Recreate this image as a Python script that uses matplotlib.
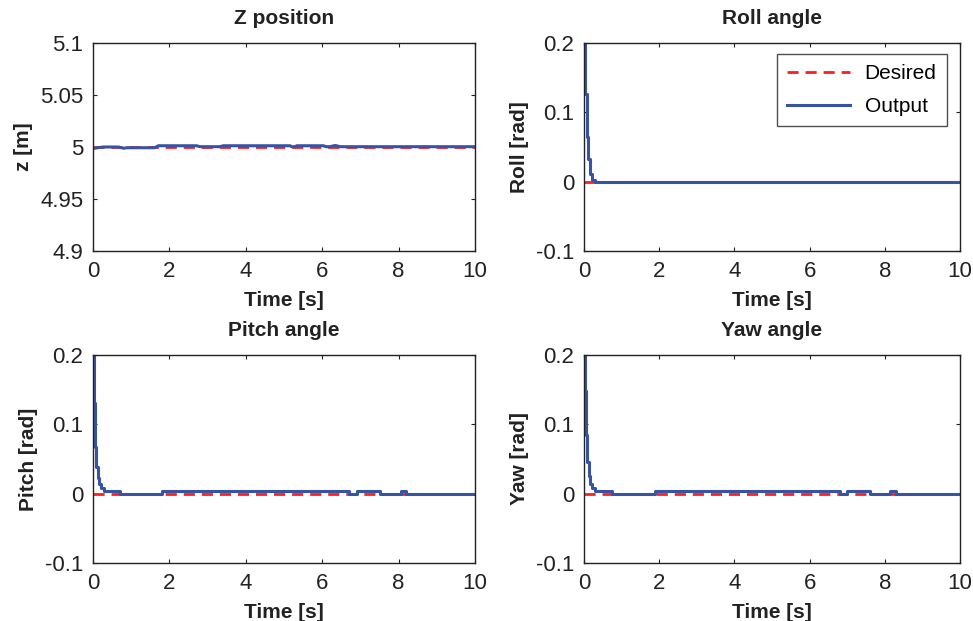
import matplotlib
matplotlib.use("Agg")
import matplotlib.pyplot as plt
import numpy as np

plt.rcParams['font.family'] = ['Liberation Sans', 'DejaVu Sans']

# Z position (piecewise linear output)
z_t = [0, 0.1, 0.27, 0.66, 0.8, 0.88, 1.62, 1.71, 2.71, 2.8, 3.32, 3.41, 5.16, 5.2, 5.3, 5.33,
       6.03, 6.1, 6.2, 6.34, 6.47, 10]
z_y = [4.9985, 4.9992, 5.0, 5.0, 4.9988, 4.9993, 4.9993, 5.0012, 5.0012, 5.0003, 5.0003, 5.0012,
       5.0012, 5.0003, 5.0003, 5.0012, 5.0012, 5.0003, 5.0003, 5.0015, 5.0003, 5.0003]
z_des = 5.0

# Roll
roll_t = [0, 0.02, 0.07, 0.1, 0.15, 0.22, 0.3, 10]
roll_y = [0.2, 0.127, 0.064, 0.033, 0.011, 0.002, 0.0, 0.0]

# Pitch
pitch_t = [0, 0.02, 0.06, 0.09, 0.12, 0.17, 0.22, 0.3, 0.7, 1.8, 6.7, 6.9, 7.5, 7.95, 8.05, 8.2, 10]
pitch_y = [0.2, 0.131, 0.068, 0.039, 0.023, 0.014, 0.008, 0.004, 0.0, 0.004, 0.0, 0.004,
           0.0, 0.0, 0.004, 0.0, 0.0]

# Yaw
yaw_t = [0, 0.02, 0.06, 0.09, 0.12, 0.17, 0.22, 0.3, 0.75, 1.9, 6.8, 7.0, 7.6, 8.0, 8.15, 8.3, 10]
yaw_y = [0.2, 0.148, 0.085, 0.045, 0.025, 0.014, 0.008, 0.004, 0.0, 0.004, 0.0, 0.004,
         0.0, 0.0, 0.004, 0.0, 0.0]

ang_des = 0.0

BLUE = '#3653a6'
RED = '#ff1e1e'

fig = plt.figure(figsize=(9.73, 6.21), dpi=100)
W, H = 973, 621
def add_ax(x0, y0, x1, y1):
    return fig.add_axes([x0 / W, 1 - y1 / H, (x1 - x0) / W, (y1 - y0) / H])

axs = [add_ax(93, 43, 475, 251), add_ax(584, 43, 960, 251),
       add_ax(93, 355, 475, 563), add_ax(584, 355, 960, 563)]

tfs = 16
lfs = 15

def style(ax, title, ylabel, ylim, yticks, yticklabels):
    ax.set_xlim(0, 10)
    ax.set_ylim(*ylim)
    ax.set_xticks([0, 2, 4, 6, 8, 10])
    ax.set_xticklabels(['0', '2', '4', '6', '8', '10'])
    ax.set_yticks(yticks)
    ax.set_yticklabels(yticklabels)
    ax.tick_params(direction='in', length=3, width=0.8, top=True, right=True,
                   labelsize=tfs, pad=7, colors='#222222', labelcolor='#222222')
    for s in ax.spines.values():
        s.set_linewidth(1.0)
        s.set_color('#222222')
    ax.set_title(title, fontsize=lfs, fontweight='bold', pad=14, color='#222222')
    ax.set_xlabel('Time [s]', fontsize=lfs, fontweight='bold', labelpad=7, color='#222222')
    ax.set_ylabel(ylabel, fontsize=lfs, fontweight='bold', labelpad=5, color='#222222')

ax = axs[0]
ax.plot([0, 10], [z_des, z_des], '--', color=RED, lw=2, dashes=(4, 2.5))
ax.plot(z_t, z_y, '-', color=BLUE, lw=2.2)
style(ax, 'Z position', 'z [m]', (4.9, 5.1), [4.9, 4.95, 5.0, 5.05, 5.1],
      ['4.9', '4.95', '5', '5.05', '5.1'])

angle_sets = [(axs[1], roll_t, roll_y, 'Roll angle', 'Roll [rad]'),
              (axs[2], pitch_t, pitch_y, 'Pitch angle', 'Pitch [rad]'),
              (axs[3], yaw_t, yaw_y, 'Yaw angle', 'Yaw [rad]')]
for ax, t, y, title, yl in angle_sets:
    ax.plot([0, 10], [ang_des, ang_des], '--', color=RED, lw=2, dashes=(4, 2.5), label='Desired')
    ax.plot(t, y, '-', color=BLUE, lw=2.2, drawstyle='steps-post', label='Output')
    style(ax, title, yl, (-0.1, 0.2), [-0.1, 0, 0.1, 0.2], ['-0.1', '0', '0.1', '0.2'])

leg = axs[1].legend(loc='upper right', fontsize=lfs, frameon=True, fancybox=False,
                    edgecolor='#222222', handlelength=3.0, borderpad=0.5,
                    bbox_to_anchor=(0.965, 0.947), borderaxespad=0,
                    labelspacing=0.65, handletextpad=0.7)
leg.get_frame().set_linewidth(1.0)

fig.savefig('out.png', dpi=100)
